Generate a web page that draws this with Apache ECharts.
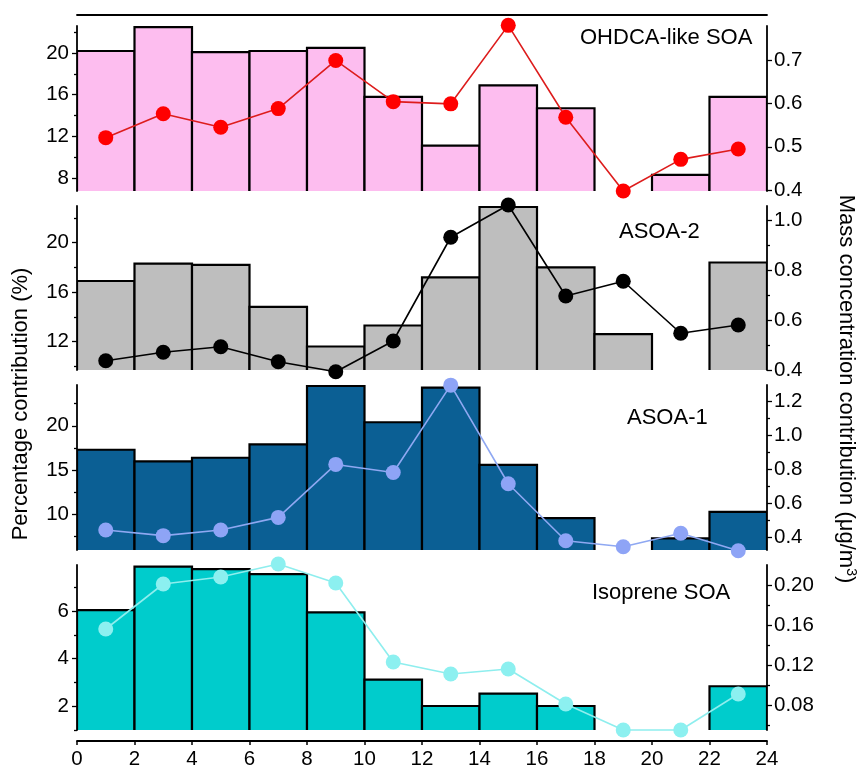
<!DOCTYPE html>
<html>
<head>
<meta charset="utf-8">
<script src="https://cdn.jsdelivr.net/npm/echarts@6/dist/echarts.min.js"></script>
<style>
  html, body { margin: 0; padding: 0; background: #fff; }
  #chart { width: 864px; height: 772px; }
</style>
</head>
<body>
<div id="chart"></div>
<script>
// hour bins (centre of each 2-hour bin)
var hours = [1, 3, 5, 7, 9, 11, 13, 15, 17, 19, 21, 23];
var xTicks = [0, 2, 4, 6, 8, 10, 12, 14, 16, 18, 20, 22, 24];

// percentage contribution (%) - bars
var ohdcaPct = [20.2, 22.5, 20.1, 20.2, 20.5, 15.8, 11.1, 16.9, 14.7, null, 8.3, 15.8];
var asoa2Pct = [16.9, 18.3, 18.2, 14.8, 11.6, 13.3, 17.2, 22.9, 18.0, 12.6, null, 18.4];
var asoa1Pct = [17.3, 16.0, 16.4, 17.9, 24.5, 20.4, 24.3, 15.6, 9.6, null, 7.3, 10.3];
var isopPct = [6.04, 7.87, 7.77, 7.56, 5.95, 3.12, 2.01, 2.53, 2.01, null, null, 2.84];

// mass concentration contribution (ug/m3) - lines
var ohdcaMass = [0.521, 0.576, 0.545, 0.588, 0.699, 0.604, 0.599, 0.780, 0.568, 0.398, 0.471, 0.495];
var asoa2Mass = [0.437, 0.471, 0.493, 0.433, 0.393, 0.516, 0.931, 1.06, 0.696, 0.755, 0.547, 0.580];
var asoa1Mass = [0.445, 0.412, 0.445, 0.519, 0.829, 0.782, 1.293, 0.716, 0.382, 0.347, 0.426, 0.324];
var isopMass = [0.156, 0.201, 0.208, 0.221, 0.202, 0.123, 0.111, 0.116, 0.081, 0.055, 0.055, 0.091];

var FONT = '"Liberation Sans", Arial, sans-serif';

var panels = [
    {name: 'OHDCA-like SOA', pct: ohdcaPct, mass: ohdcaMass, top: 26, height: 165,
     barColor: '#fdbdef', lineColor: '#dd1c1c', dotColor: '#ff0000',
     left: {min: 6.75, max: 22.6, ticks: [8, 12, 16, 20], minor: [10, 14, 18, 22], dec: 0},
     right: {min: 0.398, max: 0.7785, ticks: [0.4, 0.5, 0.6, 0.7], minor: [], dec: 1},
     titleLeft: 580, titleTop: 27},
    {name: 'ASOA-2', pct: asoa2Pct, mass: asoa2Mass, top: 206, height: 164,
     barColor: '#bebebe', lineColor: '#000000', dotColor: '#000000',
     left: {min: 9.7, max: 22.97, ticks: [12, 16, 20], minor: [10, 14, 18, 22], dec: 0},
     right: {min: 0.4, max: 1.056, ticks: [0.4, 0.6, 0.8, 1.0], minor: [0.5, 0.7, 0.9], dec: 1},
     titleLeft: 619, titleTop: 221},
    {name: 'ASOA-1', pct: asoa1Pct, mass: asoa1Mass, top: 385, height: 165,
     barColor: '#0b5f94', lineColor: '#8fa8f2', dotColor: '#8ea4f6',
     left: {min: 6, max: 24.6, ticks: [10, 15, 20], minor: [7.5, 12.5, 17.5, 22.5], dec: 0},
     right: {min: 0.328, max: 1.294, ticks: [0.4, 0.6, 0.8, 1.0, 1.2], minor: [0.5, 0.7, 0.9, 1.1], dec: 1},
     titleLeft: 627, titleTop: 407},
    {name: 'Isoprene SOA', pct: isopPct, mass: isopMass, top: 565, height: 165,
     barColor: '#00cccc', lineColor: '#8eeeee', dotColor: '#8cf0f0',
     left: {min: 1, max: 7.94, ticks: [2, 4, 6], minor: [1, 3, 5, 7], dec: 0},
     right: {min: 0.055, max: 0.22, ticks: [0.08, 0.12, 0.16, 0.20], minor: [0.06, 0.10, 0.14, 0.18], dec: 2},
     titleLeft: 592, titleTop: 582}
];

function yAxisDef(i, side, ax, major) {
    return {
        gridIndex: i,
        type: 'value',
        position: side,
        min: ax.min,
        max: ax.max,
        axisLine: {show: major, lineStyle: {color: '#000', width: 1.8}},
        axisTick: {show: true, inside: false, length: major ? 5 : 3,
                   customValues: major ? ax.ticks : ax.minor,
                   lineStyle: {color: '#000', width: 1.3}},
        axisLabel: {show: major, customValues: ax.ticks, fontSize: 20.5, color: '#000',
                    fontFamily: FONT, margin: side == 'left' ? 8 : 7,
                    formatter: function (v) { return v.toFixed(ax.dec); }},
        splitLine: {show: false}
    };
}

var grids = [], xAxes = [], yAxes = [], series = [], titles = [];

panels.forEach(function (p, i) {
    grids.push({left: 77, width: 690, top: p.top, height: p.height});

    var xa = {gridIndex: i, type: 'value', min: 0, max: 24, interval: 2,
              splitLine: {show: false}, show: false};
    if (i == 0) {
        // line above the top panel
        xa.show = true;
        xa.position = 'top';
        xa.offset = 11;
        xa.axisLine = {show: true, lineStyle: {color: '#000', width: 1.8}};
        xa.axisTick = {show: false};
        xa.axisLabel = {show: false};
    }
    if (i == panels.length - 1) {
        xa.show = true;
        xa.position = 'bottom';
        xa.offset = 11;
        xa.axisLine = {show: true, onZero: false, lineStyle: {color: '#000', width: 1.8}};
        xa.axisTick = {show: true, inside: false, length: 4, lineStyle: {color: '#000', width: 1.5}};
        xa.axisLabel = {fontSize: 20.5, color: '#000', fontFamily: FONT, margin: 8};
    }
    xAxes.push(xa);

    var base = yAxes.length;
    yAxes.push(yAxisDef(i, 'left', p.left, true));
    yAxes.push(yAxisDef(i, 'right', p.right, true));
    yAxes.push(yAxisDef(i, 'left', p.left, false));
    yAxes.push(yAxisDef(i, 'right', p.right, false));

    var barData = [];
    hours.forEach(function (h, k) {
        if (p.pct[k] != null) barData.push([h, p.pct[k]]);
    });

    var yMin = p.left.min;
    series.push({
        type: 'custom',
        xAxisIndex: i,
        yAxisIndex: base,
        clip: true,
        z: 1,
        data: barData,
        renderItem: function (params, api) {
            var x = api.value(0), y = api.value(1);
            var a = api.coord([x - 1, y]);
            var b = api.coord([x + 1, yMin]);
            return {
                type: 'rect',
                shape: {x: a[0], y: a[1], width: b[0] - a[0], height: b[1] - a[1] + 4},
                style: {fill: p.barColor, stroke: '#000', lineWidth: 2.2}
            };
        }
    });

    series.push({
        type: 'line',
        xAxisIndex: i,
        yAxisIndex: base + 1,
        clip: false,
        z: 5,
        symbol: 'circle',
        symbolSize: 15,
        data: hours.map(function (h, k) { return [h, p.mass[k]]; }),
        lineStyle: {color: p.lineColor, width: 1.6},
        itemStyle: {color: p.dotColor}
    });

    titles.push({
        text: p.name,
        left: p.titleLeft,
        top: p.titleTop,
        padding: 0,
        textStyle: {fontSize: 22, fontWeight: 'normal', color: '#000', fontFamily: FONT}
    });
});

var chart = echarts.init(document.getElementById('chart'));
chart.setOption({
    animation: false,
    backgroundColor: '#fff',
    title: titles,
    grid: grids,
    xAxis: xAxes,
    yAxis: yAxes,
    series: series,
    graphic: [
        {
            type: 'text',
            x: 21, y: 404,
            rotation: Math.PI / 2,
            style: {text: 'Percentage contribution (%)', fontSize: 22, fill: '#000',
                    fontFamily: FONT, align: 'center', verticalAlign: 'middle'}
        },
        {
            type: 'text',
            x: 846, y: 389,
            rotation: -Math.PI / 2,
            style: {
                text: '{a|Mass concentration contribution (\u03bcg/m}{s|3}{a|)}',
                align: 'center', verticalAlign: 'middle',
                rich: {
                    a: {fontSize: 22, fill: '#000', fontFamily: FONT},
                    s: {fontSize: 14, fill: '#000', fontFamily: FONT, verticalAlign: 'top', padding: [0, 0, 10, 0]}
                }
            }
        }
    ]
});
</script>
</body>
</html>
